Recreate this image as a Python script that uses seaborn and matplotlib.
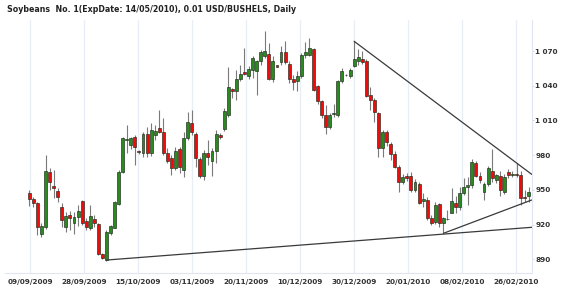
import matplotlib
matplotlib.use("Agg")
import matplotlib.pyplot as plt
import seaborn as sns
import numpy as np
import pandas as pd
from matplotlib.ticker import FuncFormatter

# ---------------- data ----------------
opens = [947.0, 942.1, 938.4, 912.0, 917.6, 965.7, 953.1, 949.3, 935.4, 917.6,
         928.0, 921.6, 926.8, 940.4, 923.1, 917.0, 925.1, 920.2, 894.3, 889.4,
         912.4, 917.3, 937.5, 965.2, 993.0, 988.8, 995.9, 983.6, 981.6, 998.0,
         981.6, 997.4, 1003.7, 999.7, 982.1, 977.8, 969.1, 985.3, 967.1, 995.0,
         1007.5, 998.0, 976.7, 961.7, 981.8, 975.2, 983.8, 997.7, 1002.8, 1014.4,
         1037.2, 1035.2, 1046.1, 1051.9, 1048.1, 1053.8, 1052.5, 1061.1, 1065.4, 1067.4,
         1046.1, 1057.6, 1060.5, 1069.1, 1059.0, 1046.1, 1043.8, 1048.1, 1066.3, 1066.3,
         1072.0, 1039.5, 1026.5, 1014.9, 1004.6, 1015.2, 1014.4, 1043.8, 1049.0, 1048.1,
         1057.3, 1061.1, 1063.4, 1061.6, 1032.0, 1027.6, 1016.7, 985.9, 1000.3, 989.6,
         981.0, 970.0, 957.0, 962.0, 962.0, 949.9, 955.0, 940.4, 941.2, 925.9,
         922.5, 937.8, 921.6, 924.5, 930.3, 938.9, 935.4, 947.0, 952.7, 954.2,
         973.5, 962.0, 948.4, 955.0, 966.5, 958.5, 962.0, 948.4, 965.7, 962.8,
         963.7, 962.8, 944.0, 944.7]
highs = [949.9, 944.0, 939.8, 921.0, 980.1, 968.6, 967.1, 951.9, 938.9, 931.1,
         932.0, 931.0, 936.9, 941.2, 925.6, 936.9, 928.3, 921.0, 895.2, 915.3,
         919.6, 940.6, 967.1, 995.9, 1006.0, 996.0, 997.4, 984.5, 1000.3, 1004.6,
         1007.5, 1006.0, 1019.0, 1011.8, 985.9, 980.1, 987.3, 987.3, 1000.3, 1017.5,
         1019.0, 1000.3, 978.1, 984.7, 993.4, 986.2, 1002.0, 999.4, 1020.7, 1055.9,
         1038.0, 1053.8, 1057.6, 1072.6, 1057.0, 1065.4, 1062.5, 1071.0, 1087.5, 1076.9,
         1065.4, 1058.0, 1074.0, 1078.4, 1061.1, 1049.5, 1052.5, 1068.3, 1077.8, 1081.2,
         1072.6, 1040.9, 1027.9, 1023.6, 1016.6, 1024.0, 1045.2, 1055.3, 1050.0, 1055.3,
         1078.4, 1072.0, 1069.8, 1063.0, 1039.1, 1029.1, 1017.5, 1001.7, 1001.7, 991.6,
         983.2, 971.5, 964.0, 964.3, 965.7, 959.0, 956.5, 947.0, 944.1, 928.3,
         939.4, 938.9, 926.8, 932.6, 951.3, 945.0, 952.7, 960.0, 961.4, 976.6,
         975.0, 965.7, 957.0, 971.0, 985.0, 964.0, 966.0, 964.0, 968.0, 966.5,
         972.9, 966.0, 949.9, 952.7]
lows = [936.0, 935.4, 911.0, 909.5, 915.9, 949.9, 942.9, 939.8, 917.6, 913.8,
        915.0, 912.0, 918.7, 919.6, 915.3, 915.3, 917.6, 893.7, 890.0, 888.8,
        911.0, 916.7, 937.0, 964.3, 982.0, 985.0, 971.5, 981.0, 978.6, 978.6,
        979.5, 993.0, 998.9, 980.1, 972.9, 962.8, 967.1, 964.3, 961.4, 993.1,
        997.4, 970.0, 960.2, 958.8, 971.7, 961.7, 973.2, 994.0, 1000.6, 1012.7,
        1029.4, 1027.9, 1044.0, 1049.5, 1046.0, 1046.7, 1032.2, 1058.0, 1064.0, 1045.2,
        1043.4, 1056.0, 1058.0, 1058.8, 1042.3, 1036.6, 1035.2, 1046.7, 1064.0, 1065.4,
        1035.2, 1024.2, 1012.1, 998.3, 1003.0, 1013.0, 1013.0, 1042.3, 1048.0, 1046.7,
        1055.9, 1058.2, 1059.0, 1030.0, 1019.0, 1008.9, 978.1, 978.1, 988.0, 975.8,
        968.6, 948.4, 955.0, 957.6, 948.4, 948.0, 938.0, 935.4, 923.9, 920.0,
        920.6, 918.1, 912.4, 924.0, 929.7, 930.0, 932.6, 945.5, 936.9, 952.0,
        961.0, 956.0, 941.2, 953.0, 957.0, 956.0, 945.0, 946.0, 960.0, 961.0,
        961.4, 936.9, 939.8, 939.8]
closes = [942.4, 938.9, 917.6, 918.9, 966.5, 956.5, 951.9, 944.1, 923.9, 927.4,
          925.7, 926.8, 931.7, 921.0, 917.6, 927.4, 921.0, 894.6, 890.8, 913.8,
          919.0, 939.8, 965.2, 994.5, 994.0, 994.5, 987.3, 982.4, 998.0, 981.6,
          1001.7, 1000.9, 1000.3, 981.6, 974.9, 969.1, 983.6, 970.0, 995.0, 1008.4,
          1000.3, 977.3, 961.7, 981.8, 978.1, 983.8, 998.3, 996.0, 1018.4, 1038.6,
          1035.4, 1046.1, 1050.4, 1050.4, 1054.7, 1064.0, 1061.1, 1069.1, 1069.7, 1046.1,
          1061.6, 1056.4, 1069.1, 1060.5, 1046.1, 1043.2, 1048.7, 1066.3, 1069.1, 1072.6,
          1036.6, 1026.5, 1014.4, 1004.0, 1014.9, 1016.6, 1043.8, 1053.0, 1049.3, 1053.8,
          1063.4, 1064.6, 1060.5, 1031.1, 1027.6, 1017.5, 985.9, 1000.3, 991.6, 981.0,
          970.0, 957.0, 961.4, 960.0, 949.9, 957.0, 938.9, 941.8, 925.4, 921.0,
          936.9, 921.0, 925.4, 925.0, 940.4, 935.4, 947.0, 952.7, 954.6, 974.3,
          962.0, 958.5, 954.8, 969.1, 960.0, 962.8, 949.9, 961.4, 962.8, 963.7,
          963.0, 942.7, 942.7, 948.5]

date_labels = ["09/09/2009", "28/09/2009", "15/10/2009", "03/11/2009", "20/11/2009",
               "10/12/2009", "30/12/2009", "20/01/2010", "08/02/2010", "26/02/2010"]
date_tick_pos = [0.2, 13.5, 26.8, 40.1, 53.4, 66.7, 80.0, 93.3, 106.6, 119.9]
y_ticks = [890, 920, 950, 980, 1010, 1040, 1070]

# trend lines (start index/value -> end index/value)
trend_x0 = [19, 102, 80]
trend_y0 = [889.3, 912.4, 1078.4]
trend_x1 = [123.74, 123.74, 123.74]
trend_y1 = [917.6, 941.2, 963.4]

title = "Soybeans  No. 1(ExpDate: 14/05/2010), 0.01 USD/BUSHELS, Daily"

# ---------------- figure ----------------
sns.set_style("white")
plt.rcParams["font.family"] = ["DejaVu Sans"]

W, H = 570, 289
fig = plt.figure(figsize=(W / 100, H / 100), dpi=100)
L, R, T, B = 5, 531.7, 20, 273
ax = fig.add_axes([L / W, 1 - B / H, (R - L) / W, (B - T) / H])

df = pd.DataFrame({"o": opens, "h": highs, "l": lows, "c": closes})
df["i"] = np.arange(len(df))
df["up"] = df["c"] >= df["o"]
df["bot"] = df[["o", "c"]].min(axis=1)
df["ht"] = (df["c"] - df["o"]).abs().clip(lower=0.35)

# gridlines
for p in date_tick_pos:
    ax.axvline(p, color="#e8eef6", lw=0.9, zorder=0)

# wicks
ax.vlines(df["i"], df["l"], df["h"], color="#7a7a7a", lw=0.8, zorder=1)

# bodies
green, red = "#2a8a1f", "#f00a0a"
colors = [green if u else red for u in df["up"]]
ax.bar(df["i"], df["ht"], bottom=df["bot"], width=0.72, color=colors,
       edgecolor="#1e2a1e", linewidth=0.45, zorder=2)

# trend lines
for x0, y0, x1, y1 in zip(trend_x0, trend_y0, trend_x1, trend_y1):
    sns.lineplot(x=[x0, x1], y=[y0, y1], ax=ax, color="#3a3a3a", lw=0.9, zorder=3)

ax.set_xlim(-5.99, 123.74)
ax.set_ylim(878.1, 1096.8)

ax.set_xticks(date_tick_pos)
ax.set_xticklabels(date_labels)
ax.yaxis.tick_right()
ax.set_yticks(y_ticks)
ax.yaxis.set_major_formatter(FuncFormatter(lambda v, p: f"{v:,.0f}".replace(",", " ")))

ax.tick_params(axis="x", length=0, pad=4.5, labelsize=5.2, labelcolor="#333333")
ax.tick_params(axis="y", length=1.5, width=0.6, color="#c8d2de", pad=1.2,
               labelsize=5.2, labelcolor="#333333")
for lab in ax.get_xticklabels() + ax.get_yticklabels():
    lab.set_fontweight("bold")

for s in ["top", "left"]:
    ax.spines[s].set_visible(False)
ax.spines["bottom"].set_color("#dfe6ef")
ax.spines["bottom"].set_linewidth(0.8)
ax.spines["right"].set_color("#dfe6ef")
ax.spines["right"].set_linewidth(0.8)
ax.set_xlabel("")
ax.set_ylabel("")
ax.grid(False)

fig.text(7 / W, 1 - 9 / H, title, fontsize=5.7, fontweight="bold",
         color="#222222", va="center", ha="left")

fig.savefig("out.png", dpi=100, facecolor="white")
